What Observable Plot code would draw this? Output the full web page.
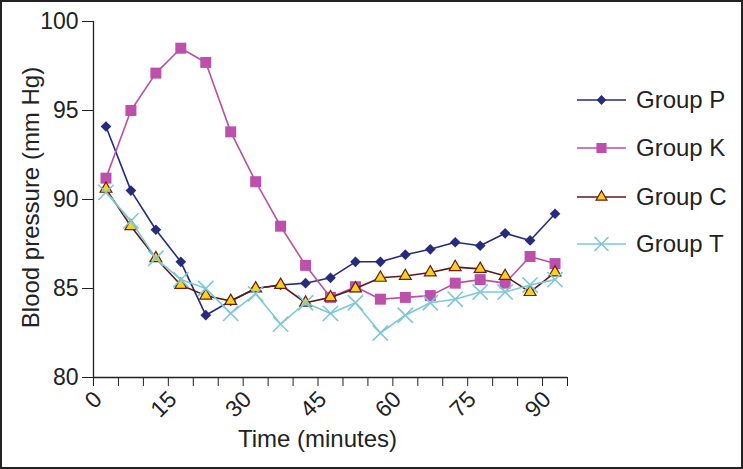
<!DOCTYPE html>
<html><head><meta charset="utf-8">
<script src="https://cdn.jsdelivr.net/npm/d3@7"></script>
<script src="https://cdn.jsdelivr.net/npm/@observablehq/plot@0.6"></script>
<style>
body{margin:0;background:#fff;}
#wrap{position:relative;width:743px;height:469px;overflow:hidden;font-family:"Liberation Sans",Arial,sans-serif;}
#border{position:absolute;left:0;top:0;width:743px;height:469px;box-sizing:border-box;border:2px solid #222;pointer-events:none;}
#legend{position:absolute;left:0;top:0;}
#wrap > svg{position:absolute;left:0;top:0;}
</style></head><body><div id="wrap"></div>
<script>
const times = [0,5,10,15,20,25,30,35,40,45,50,55,60,65,70,75,80,85,90];
const groupP = [94.1,90.5,88.3,86.5,83.5,84.3,85.0,85.2,85.3,85.6,86.5,86.5,86.9,87.2,87.6,87.4,88.1,87.7,89.2];
const groupK = [91.2,95.0,97.1,98.5,97.7,93.8,91.0,88.5,86.3,84.5,85.1,84.4,84.5,84.6,85.3,85.5,85.3,86.8,86.4];
const groupC = [90.6,88.5,86.7,85.2,84.6,84.3,85.0,85.2,84.2,84.5,85.0,85.6,85.7,85.9,86.2,86.1,85.7,84.8,85.9];
const groupT = [90.4,88.8,86.7,85.5,85.0,83.6,84.7,83.0,84.2,83.6,84.2,82.5,83.5,84.2,84.4,84.8,84.8,85.2,85.5];
const seriesNames = ["Group P","Group K","Group C","Group T"];
const xTickLabels = [0,15,30,45,60,75,90];
const yTicks = [80,85,90,95,100];
const xTitle = "Time (minutes)";
const yTitle = "Blood pressure (mm Hg)";

const seriesValues = [groupP, groupK, groupC, groupT];
const styles = [
  {line:"#262b7c", symbol:"diamond2", r:4.8, fill:"#262b7c", stroke:"none", sw:0},
  {line:"#b851a6", symbol:"square", r:6.2, fill:"#bc50aa", stroke:"none", sw:0},
  {line:"#5a1a1c", symbol:"triangle", r:4.4, fill:"#f7d21e", stroke:"#6e1c10", sw:1.2},
  {line:"#7cc8d6", symbol:"times", r:7.0, fill:"none", stroke:"#7cc8d6", sw:1.6}
];
const rows = seriesNames.map((name, k) => times.map((t, i) => ({time: t, value: seriesValues[k][i], group: name})));
const step = times[1] - times[0];
const xBounds = [...times.map(t => t - step / 2), times[times.length - 1] + step / 2];

const font = "'Liberation Sans', Arial, sans-serif";
const marks = [
  Plot.ruleX([xBounds[0]], {stroke: "#222", strokeWidth: 1.3}),
  Plot.ruleY([80], {stroke: "#222", strokeWidth: 1.3}),
  Plot.axisY({ticks: yTicks, tickSize: 11, tickPadding: 4, label: null, fontSize: 23, stroke: "#222"}),
  Plot.axisX({ticks: xBounds, tickSize: 9, tickFormat: () => "", label: null, stroke: "#222"}),
  Plot.axisX({ticks: xTickLabels, tickSize: 0, tickRotate: -45, tickPadding: 12, dx: -8, dy: 6, label: null, fontSize: 23}),
  Plot.text([yTitle], {text: d => d, frameAnchor: "left", textAnchor: "middle", rotate: -90, dx: -62, dy: -2, lineAnchor: "middle", fontSize: 24, fill: "#222"}),
  Plot.text([xTitle], {text: d => d, frameAnchor: "bottom", textAnchor: "middle", dx: -13, dy: 62, lineAnchor: "middle", fontSize: 24, fill: "#222"})
];
rows.forEach((data, k) => {
  const s = styles[k];
  marks.push(Plot.line(data, {x: "time", y: "value", stroke: s.line, strokeWidth: 1.6}));
  marks.push(Plot.dot(data, {x: "time", y: "value", symbol: s.symbol, r: s.r, fill: s.fill, stroke: s.stroke, strokeWidth: s.sw}));
});

const chart = Plot.plot({
  width: 743, height: 469,
  marginLeft: 93, marginTop: 21, marginBottom: 92, marginRight: 176,
  x: {domain: [xBounds[0], xBounds[xBounds.length - 1]]},
  y: {domain: [80, 100]},
  style: {fontFamily: font, color: "#222", background: "white"},
  marks
});
const wrap = document.getElementById("wrap");
wrap.appendChild(chart);

// legend
const lg = d3.select(wrap).append("svg").attr("id", "legend").attr("width", 743).attr("height", 469)
  .style("font-family", font);
const legendY = [100, 148, 197, 244];
const symMap = {diamond2: d3.symbolDiamond2, square: d3.symbolSquare, triangle: d3.symbolTriangle, times: d3.symbolTimes};
seriesNames.forEach((name, k) => {
  const s = styles[k];
  const g = lg.append("g").attr("transform", `translate(0,${legendY[k]})`);
  g.append("line").attr("x1", 577).attr("x2", 626).attr("y1", 0).attr("y2", 0).attr("stroke", s.line).attr("stroke-width", 1.6);
  g.append("path").attr("transform", "translate(601.5,0)")
    .attr("d", d3.symbol(symMap[s.symbol], Math.PI * s.r * s.r * 0.85)())
    .attr("fill", s.fill).attr("stroke", s.stroke).attr("stroke-width", s.sw);
  g.append("text").attr("x", 636).attr("y", 0).attr("dy", "0.35em").attr("font-size", 24).attr("fill", "#222").text(name);
});
const b = document.createElement("div"); b.id = "border"; wrap.appendChild(b);
</script></body></html>
